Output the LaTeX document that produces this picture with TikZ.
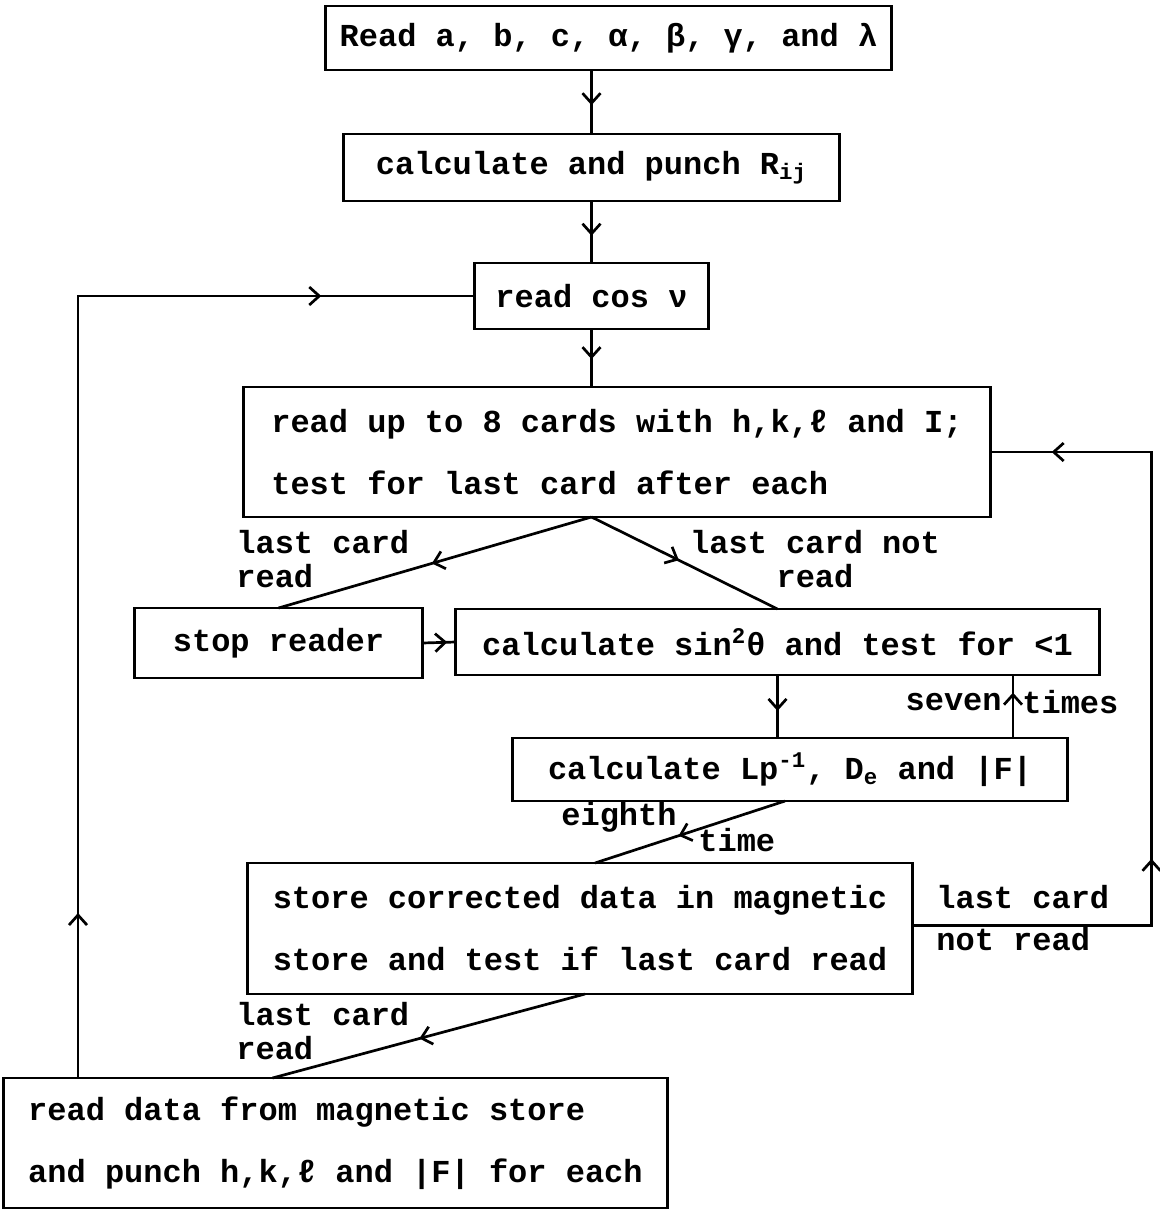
\documentclass[tikz,border=0pt]{standalone}
\usepackage{fontspec}
\setmainfont{Liberation Mono}
\usetikzlibrary{positioning,calc,arrows.meta,decorations.markings}

\tikzset{
  midarrow/.style={decoration={markings,
      mark=at position #1 with {\arrow{Straight Barb[length=5pt,width=9pt]}}},
    postaction={decorate}},
  midarrow/.default=0.5,
  twoarrows/.style 2 args={decoration={markings,
      mark=at position #1 with {\arrow{Straight Barb[length=5pt,width=9pt]}},
      mark=at position #2 with {\arrow{Straight Barb[length=5pt,width=9pt]}}},
    postaction={decorate}},
}

\begin{document}
\begin{tikzpicture}[x=0.5pt, y=-0.5pt, line width=1.35pt,
    box/.style={rectangle, draw, line width=1.4pt, outer sep=0pt, align=center, inner sep=2pt,
      font=\bfseries\fontsize{16}{31}\selectfont},
    lbl/.style={inner sep=0pt, align=left, font=\bfseries\fontsize{16}{17}\selectfont}]
    \useasboundingbox (0,0) rectangle (1160,1212);

    \node[box, minimum width=283pt, minimum height=32pt] (read) at (608.5,38) {Read a, b, c, α, β, γ, and λ};
    \node[box, minimum width=248pt, minimum height=33.5pt, below=32pt of read, xshift=-8.5pt] (calc) {calculate and punch R\textsubscript{ij}};
    \node[box, minimum width=117pt, minimum height=33pt, below=31pt of calc] (cosv) {read cos ν};
    \node[box, align=left, minimum width=373.5pt, minimum height=65pt, below=29pt of cosv, xshift=12.75pt] (cards) {read up to 8 cards with h,k,ℓ and I;\\test for last card after each};
    \node[box, minimum width=144pt, minimum height=35pt, below=45.5pt of cards, xshift=-169.25pt] (stop) {stop reader};
    \node[box, minimum width=322pt, minimum height=33pt, right=16.5pt of stop, yshift=0.5pt] (sin) {calculate sin\textsuperscript{2}θ and test for <1};
    \node[box, minimum width=277.5pt, minimum height=31.5pt, below=31.5pt of sin, xshift=6.25pt] (lp) {calculate Lp\textsuperscript{-1}, D\textsubscript{e} and |F|};
    \node[box, align=left, minimum width=332.5pt, minimum height=65.5pt, below=31pt of lp, xshift=-105pt] (store) {store corrected data in magnetic\\store and test if last card read};
    \node[box, align=left, minimum width=332pt, minimum height=65pt, below=42pt of store, xshift=-122.25pt] (readout) {read data from magnetic store\\and punch h,k,ℓ and |F| for each};

    % labels on the branches
    \node[lbl, anchor=north west] (lastread) at (235,529) {last card\\read};
    \node[lbl, anchor=north, align=center] (notread) at (815,529) {last card not\\read};
    \node[lbl, anchor=east] (seven) at (1003,702) {seven};
    \node[lbl, anchor=west] (times) at (1021,702) {times};
    \node[lbl, anchor=west] (eighth) at (560,817) {eighth};
    \node[lbl, anchor=west] (time) at (697,840) {time};
    \node[lbl, anchor=north west] (notread2) at (935,884) {last card\\[4pt]not read};
    \node[lbl, anchor=north west] (lastread2) at (235,1001) {last card\\read};

    \draw[midarrow=0.55] (cosv.north |- read.south) -- (cosv.north |- calc.north);
    \draw[midarrow=0.56] (cosv.north |- calc.south) -- (cosv.north);
    \draw[midarrow=0.52] (cosv.south) -- (cosv.south |- cards.north);
    \draw[midarrow=0.51] (cosv.south |- cards.south) -- (stop.north);
    \draw[midarrow=0.47] (cosv.south |- cards.south) -- (sin.north);
    \draw[midarrow=0.75] (stop.east) -- (sin.west);
    \draw[midarrow=0.57] (sin.south) -- (sin.south |- lp.north);
    \draw[midarrow=0.72] ([xshift=111.5pt]lp.north) -- ([xshift=111.5pt]lp.north |- sin.south);
    \draw[midarrow=0.56] ([xshift=-2.5pt]lp.south) -- ([xshift=7.5pt]store.north);
    \draw[midarrow=0.53] ([xshift=2.5pt]store.south) -- ([xshift=-31.5pt]readout.north);
    % loops back
    \draw[twoarrows={0.35}{0.93}] ([yshift=1.5pt]store.east) -- ++(119.5pt,0) |- (cards.east);
    \draw[twoarrows={0.14}{0.87}] ([xshift=-128.75pt]readout.north) |- (cosv.west);
\end{tikzpicture}
\end{document}
